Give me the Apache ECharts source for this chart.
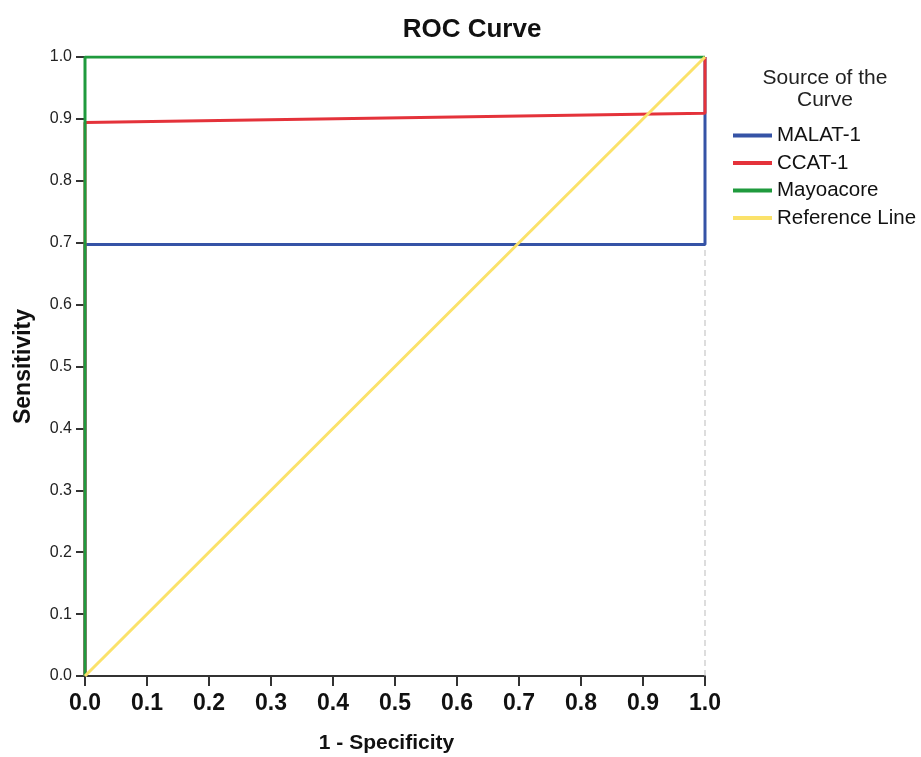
<!DOCTYPE html>
<html><head><meta charset="utf-8">
<script src="https://cdn.jsdelivr.net/npm/echarts@6/dist/echarts.min.js"></script>
<style>html,body{margin:0;padding:0;background:#fff}#c{width:921px;height:757px}</style>
</head><body><div id="c"></div>
<script>
const xTicks = [0.0,0.1,0.2,0.3,0.4,0.5,0.6,0.7,0.8,0.9,1.0];
const seriesNames = ['MALAT-1','CCAT-1','Mayoacore','Reference Line'];
const malat1 = [[0,0],[0,0.697],[1,0.697],[1,1]];
const ccat1 = [[0,0],[0,0.894],[1,0.909],[1,1]];
const mayoacore = [[0,0],[0,1],[1,1]];
const referenceLine = [[0,0],[1,1]];
const frameRight = [[1,0],[1,1]];
const colors = ['#3553a6','#e4323a','#1f9a3d','#fbe26a'];

const chart = echarts.init(document.getElementById('c'));
const font = 'Liberation Sans, Arial, sans-serif';
function lineSeries(name, data, color, z){
  return {name, type:'line', data, symbol:'none', z, lineStyle:{color, width:3}, itemStyle:{color}, animation:false, silent:true};
}
chart.setOption({
  animation:false,
  title:[
    {text:'ROC Curve', left:472, top:17, padding:0, textAlign:'center', textStyle:{fontFamily:font, fontSize:26, fontWeight:'bold', color:'#111'}},
    {text:'Source of the\nCurve', left:825, top:67, padding:0, textAlign:'center', textStyle:{fontFamily:font, fontSize:21, fontWeight:'normal', color:'#222', lineHeight:22}}
  ],
  legend:{
    orient:'vertical', left:733, top:125, padding:0, icon:'rect', itemWidth:39, itemHeight:4, itemGap:6.5,
    data:seriesNames,
    textStyle:{fontFamily:font, fontSize:20.5, color:'#111', lineHeight:20}
  },
  grid:{left:85, right:216, top:57, bottom:81, outerBoundsMode:'none', containLabel:false},
  xAxis:{
    type:'value', min:0, max:1, interval:0.1,
    name:'1 - Specificity', nameLocation:'middle', nameGap:57,
    nameTextStyle:{fontFamily:font, fontSize:21, fontWeight:'bold', color:'#111', padding:[0,17,0,0]},
    axisLine:{lineStyle:{color:'#333', width:2}},
    axisTick:{length:10, lineStyle:{color:'#333', width:2}},
    axisLabel:{fontFamily:font, fontSize:23, fontWeight:'bold', color:'#111', margin:16, formatter:v=>v.toFixed(1)},
    splitLine:{show:false}
  },
  yAxis:{
    type:'value', min:0, max:1, interval:0.1,
    name:'Sensitivity', nameLocation:'middle', nameGap:50,
    nameTextStyle:{fontFamily:font, fontSize:23, fontWeight:'bold', color:'#111'},
    axisLine:{show:true, lineStyle:{color:'#333', width:2}},
    axisTick:{show:true, length:9, lineStyle:{color:'#333', width:2}},
    axisLabel:{fontFamily:font, fontSize:16, color:'#222', margin:13, formatter:v=>v.toFixed(1)},
    splitLine:{show:false}
  },
  series:[
    {type:'line', data:frameRight, symbol:'none', silent:true, z:1, lineStyle:{color:'#bbb', width:1, type:[6,4]}},
    lineSeries('MALAT-1', malat1, colors[0], 2),
    lineSeries('CCAT-1', ccat1, colors[1], 3),
    lineSeries('Mayoacore', mayoacore, colors[2], 4),
    lineSeries('Reference Line', referenceLine, colors[3], 5)
  ]
});
</script></body></html>
